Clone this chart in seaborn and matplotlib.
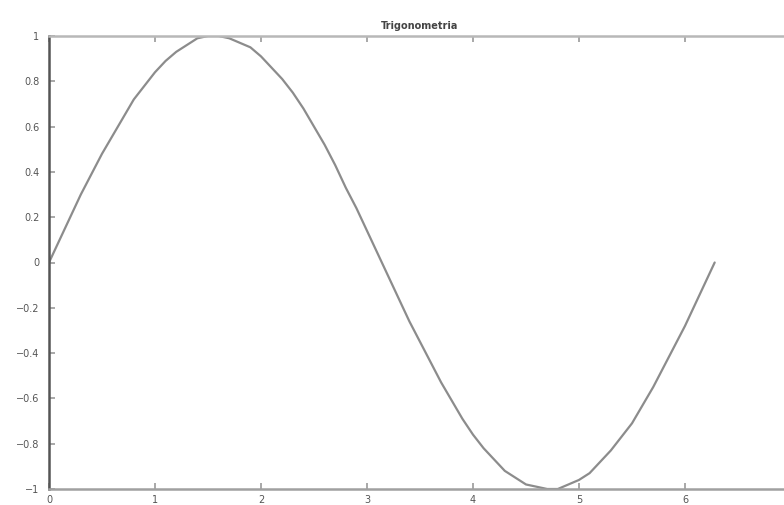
import matplotlib
matplotlib.use("Agg")
import matplotlib.pyplot as plt
import seaborn as sns
import pandas as pd

title = "Trigonometria"
x_vals = [0.0, 0.1, 0.2, 0.3, 0.4, 0.5, 0.6, 0.7, 0.8, 0.9, 1.0, 1.1, 1.2, 1.3,
          1.4, 1.5, 1.6, 1.7, 1.8, 1.9, 2.0, 2.1, 2.2, 2.3, 2.4, 2.5, 2.6, 2.7,
          2.8, 2.9, 3.0, 3.1, 3.2, 3.3, 3.4, 3.5, 3.6, 3.7, 3.8, 3.9, 4.0, 4.1,
          4.2, 4.3, 4.4, 4.5, 4.6, 4.7, 4.8, 4.9, 5.0, 5.1, 5.2, 5.3, 5.4, 5.5,
          5.6, 5.7, 5.8, 5.9, 6.0, 6.1, 6.2, 6.28]
y_vals = [0.00, 0.10, 0.20, 0.30, 0.39, 0.48, 0.56, 0.64, 0.72, 0.78, 0.84, 0.89,
          0.93, 0.96, 0.99, 1.00, 1.00, 0.99, 0.97, 0.95, 0.91, 0.86, 0.81, 0.75,
          0.68, 0.60, 0.52, 0.43, 0.33, 0.24, 0.14, 0.04, -0.06, -0.16, -0.26,
          -0.35, -0.44, -0.53, -0.61, -0.69, -0.76, -0.82, -0.87, -0.92, -0.95,
          -0.98, -0.99, -1.00, -1.00, -0.98, -0.96, -0.93, -0.88, -0.83, -0.77,
          -0.71, -0.63, -0.55, -0.46, -0.37, -0.28, -0.18, -0.08, 0.00]
x_ticks = [0, 1, 2, 3, 4, 5, 6]
y_ticks = [-1, -0.8, -0.6, -0.4, -0.2, 0, 0.2, 0.4, 0.6, 0.8, 1]
y_tick_labels = ["\u22121", "\u22120.8", "\u22120.6", "\u22120.4", "\u22120.2", "0",
                 "0.2", "0.4", "0.6", "0.8", "1"]

sns.set_style("white")
plt.rcParams["font.family"] = ["DejaVu Sans"]

df = pd.DataFrame({"x": x_vals, "y": y_vals})

fig = plt.figure(figsize=(7.84, 5.05), dpi=100)
ax = fig.add_axes([49 / 784, 16 / 505, 742 / 784, 453 / 505])
sns.lineplot(data=df, x="x", y="y", ax=ax, color="#8c8c8c", linewidth=1.6)

ax.set_xlim(0, 7)
ax.set_ylim(-1, 1)
ax.set_xticks(x_ticks)
ax.set_xticklabels([str(t) for t in x_ticks])
ax.set_yticks(y_ticks)
ax.set_yticklabels(y_tick_labels)
ax.set_xlabel("")
ax.set_ylabel("")
ax.set_title(title, fontsize=7, color="#444444", fontweight="bold", pad=5)

ax.tick_params(direction="in", length=4, width=1.2, colors="#999999",
               labelcolor="#555555", labelsize=7, top=True, right=True,
               bottom=True, left=True)
ax.tick_params(axis="x", pad=4)
ax.tick_params(axis="y", pad=7)
for side in ["top", "right"]:
    ax.spines[side].set_color("#b8b8b8")
    ax.spines[side].set_linewidth(1.8)
ax.spines["bottom"].set_color("#a0a0a0")
ax.spines["bottom"].set_linewidth(1.8)
ax.spines["left"].set_color("#555555")
ax.spines["left"].set_linewidth(1.8)

fig.savefig("out.png", dpi=100)
